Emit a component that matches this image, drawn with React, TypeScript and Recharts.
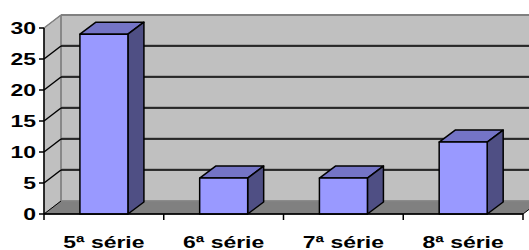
import { BarChart, Bar, XAxis, YAxis, ReferenceArea, ReferenceLine } from 'recharts'

const categories = ['5ª série', '6ª série', '7ª série', '8ª série']
const values = [29, 5.8, 5.8, 11.6]
const yTicks = [0, 5, 10, 15, 20, 25, 30]
const gridValues = [5, 10, 15, 20, 25, 30]

const data = categories.map((name, i) => ({ name, value: values[i] }))

// 3D offsets for walls and bars
const WALL_DX = 17
const WALL_DY = -13
const BAR_DX = 16
const BAR_DY = -12
const FONT = 'Arial, "Liberation Sans", sans-serif'

function Walls(props: any) {
  const { x, y, width, height } = props
  const bottom = y + height
  const right = x + width
  const step = width / categories.length
  return (
    <g>
      {/* back wall */}
      <rect x={x + WALL_DX} y={y + WALL_DY} width={width + 20} height={height} fill="#c0c0c0" />
      {/* left wall */}
      <polygon
        points={`${x},${y} ${x + WALL_DX},${y + WALL_DY} ${x + WALL_DX},${bottom + WALL_DY} ${x},${bottom}`}
        fill="#c0c0c0"
        stroke="#808080"
      />
      {/* floor */}
      <polygon
        points={`${x},${bottom} ${right},${bottom} ${right + WALL_DX},${bottom + WALL_DY} ${x + WALL_DX},${bottom + WALL_DY}`}
        fill="#808080"
        stroke="#000"
        strokeWidth={1}
      />
      <line x1={x + WALL_DX} y1={bottom + WALL_DY} x2={right + WALL_DX + 20} y2={bottom + WALL_DY} stroke="#9a9a9a" strokeWidth={1.5} />
      <line x1={x + WALL_DX} y1={y + WALL_DY} x2={x + WALL_DX} y2={bottom + WALL_DY} stroke="#808080" strokeWidth={1.5} />
      {/* category boundary ticks */}
      {categories.concat(['']).map((_, i) => (
        <line key={i} x1={x + i * step} y1={bottom} x2={x + i * step} y2={bottom + 6} stroke="#000" strokeWidth={1.5} />
      ))}
    </g>
  )
}

function GridLine(props: any) {
  const { x1, y1, x2, y2, top } = props
  const color = top ? '#808080' : '#000'
  return (
    <g>
      <line x1={x1} y1={y1} x2={x1 + WALL_DX} y2={y1 + WALL_DY} stroke={color} strokeWidth={1.5} />
      {!top && <line x1={x1 + WALL_DX} y1={y1 + WALL_DY - 1} x2={x2 + WALL_DX + 20} y2={y2 + WALL_DY - 1} stroke="#808080" strokeWidth={1} />}
      <line x1={x1 + WALL_DX} y1={y1 + WALL_DY} x2={x2 + WALL_DX + 20} y2={y2 + WALL_DY} stroke={color} strokeWidth={top ? 2 : 1.5} />
    </g>
  )
}

function Bar3D(props: any) {
  const { x, y, width, height } = props
  const r = x + width
  const b = y + height
  return (
    <g stroke="#000" strokeWidth={1.5} strokeLinejoin="round">
      <polygon points={`${x},${y} ${x + BAR_DX},${y + BAR_DY} ${r + BAR_DX},${y + BAR_DY} ${r},${y}`} fill="#7474c6" />
      <polygon points={`${r},${y} ${r + BAR_DX},${y + BAR_DY} ${r + BAR_DX},${b + BAR_DY} ${r},${b}`} fill="#4f4f84" />
      <rect x={x} y={y} width={width} height={height} fill="#9999ff" />
    </g>
  )
}

function YTick(props: any) {
  const { x, y, payload } = props
  return (
    <g transform={`translate(${x},${y}) scale(1.35,1)`}>
      <text x={0} y={0} dy="0.36em" textAnchor="end" fontFamily={FONT} fontWeight="bold" fontSize={17} fill="#000">
        {payload.value}
      </text>
    </g>
  )
}

function XTick(props: any) {
  const { x, payload } = props
  return (
    <g transform={`translate(${x},248) scale(1.35,1)`}>
      <text x={0} y={0} textAnchor="middle" fontFamily={FONT} fontWeight="bold" fontSize={17} fill="#000">
        {payload.value}
      </text>
    </g>
  )
}

export default function App() {
  return (
    <div style={{ position: 'absolute', left: 0, top: 0, width: 529, height: 250, background: '#fff' }}>
      <BarChart
        width={529}
        height={250}
        data={data}
        margin={{ top: 28, right: 6, bottom: 0, left: 0 }}
        barCategoryGap="30%"
      >
        <ReferenceArea y1={0} y2={30} shape={Walls} zIndex={-200} ifOverflow="visible" />
        {gridValues.map((v) => (
          <ReferenceLine
            key={v}
            y={v}
            zIndex={-150}
            ifOverflow="visible"
            shape={(p: any) => <GridLine {...p} top={v === 30} />}
          />
        ))}
        <XAxis
          dataKey="name"
          height={36}
          tickLine={false}
          tickSize={0}
          axisLine={{ stroke: '#000', strokeWidth: 1.5 }}
          tick={<XTick />}
          interval={0}
        />
        <YAxis
          width={44}
          domain={[0, 30]}
          ticks={yTicks}
          interval={0}
          tickSize={5}
          tickMargin={3}
          axisLine={{ stroke: '#000', strokeWidth: 1.5 }}
          tickLine={{ stroke: '#000', strokeWidth: 1.5 }}
          tick={<YTick />}
        />
        <Bar dataKey="value" shape={Bar3D} isAnimationActive={false} />
      </BarChart>
    </div>
  )
}
